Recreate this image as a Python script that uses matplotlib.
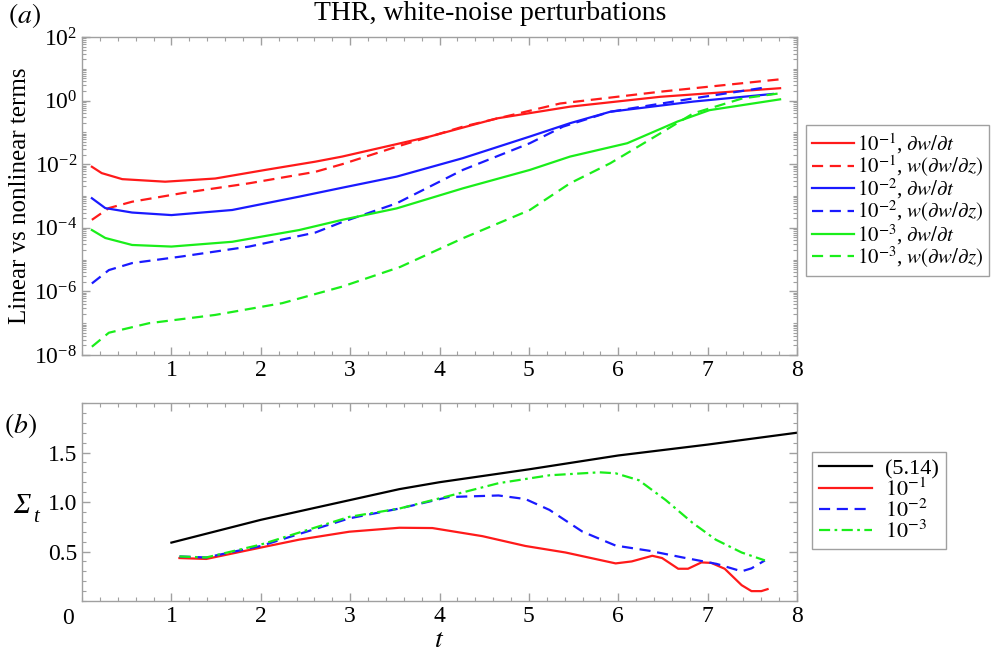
import numpy as np
import matplotlib
matplotlib.use('Agg')
import matplotlib.pyplot as plt
from matplotlib.ticker import FixedLocator, LogLocator, NullFormatter, MultipleLocator

plt.rcParams['font.family'] = ['Liberation Serif', 'DejaVu Serif']
plt.rcParams['mathtext.fontset'] = 'stix'

# ---- panel (a): linear vs nonlinear terms (log10 values)
t_rl = [0.11, 0.22, 0.45, 0.93, 1.49, 2.05, 2.61, 2.91, 3.89, 4.64, 5.46, 6.47, 7.81]
red_lin = [-2.08, -2.28, -2.47, -2.55, -2.45, -2.18, -1.92, -1.76, -1.13, -0.56, -0.19, 0.12, 0.39]

t_rn = [0.11, 0.3, 0.56, 1.12, 1.87, 2.61, 2.91, 3.52, 4.26, 5.35, 6.47, 7.81]
red_nl = [-3.75, -3.38, -3.18, -2.91, -2.6, -2.24, -2.0, -1.45, -0.82, -0.09, 0.28, 0.67]

t_bl = [0.11, 0.26, 0.56, 1.0, 1.68, 2.43, 2.91, 3.52, 4.26, 5.01, 5.46, 5.91, 6.84, 7.73]
blue_lin = [-3.07, -3.38, -3.52, -3.6, -3.44, -3.02, -2.74, -2.39, -1.81, -1.13, -0.71, -0.35, -0.03, 0.21]

t_bn = [0.11, 0.3, 0.56, 1.12, 1.87, 2.61, 2.91, 3.52, 4.26, 5.01, 5.38, 5.91, 6.84, 7.66]
blue_nl = [-5.75, -5.33, -5.11, -4.9, -4.59, -4.15, -3.82, -3.23, -2.18, -1.34, -0.82, -0.35, 0.07, 0.42]

t_gl = [0.11, 0.26, 0.56, 1.0, 1.68, 2.43, 2.91, 3.52, 4.26, 5.01, 5.46, 6.1, 6.66, 7.02, 7.81]
green_lin = [-4.07, -4.32, -4.54, -4.59, -4.44, -4.07, -3.75, -3.39, -2.76, -2.18, -1.76, -1.34, -0.66, -0.30, 0.04]

t_gn = [0.11, 0.3, 0.75, 1.49, 2.24, 2.91, 3.56, 4.26, 5.01, 5.46, 5.91, 6.47, 6.84, 7.39, 7.81]
green_nl = [-7.74, -7.3, -7.0, -6.74, -6.37, -5.85, -5.23, -4.33, -3.44, -2.6, -1.97, -1.03, -0.40, 0.07, 0.23]

# ---- panel (b): Sigma_t
t_k = [1.0, 2.0, 3.0, 3.55, 4.0, 5.0, 6.0, 7.0, 8.0]
sig_514 = [0.59, 0.82, 1.02, 1.13, 1.2, 1.33, 1.47, 1.58, 1.70]

t_r = [1.09, 1.39, 2.0, 2.43, 2.99, 3.55, 3.92, 4.48, 4.96, 5.41, 5.97, 6.15, 6.38, 6.49,
       6.67, 6.78, 6.93, 7.04, 7.19, 7.38, 7.49, 7.6, 7.67]
sig_r = [0.434, 0.425, 0.54, 0.62, 0.70, 0.74, 0.737, 0.655, 0.556, 0.49, 0.38, 0.40, 0.457, 0.434,
         0.326, 0.326, 0.39, 0.385, 0.326, 0.16, 0.10, 0.10, 0.12]

t_b = [1.09, 1.39, 2.0, 2.99, 3.55, 4.1, 4.66, 4.96, 5.23, 5.6, 5.97, 6.35, 6.72, 7.1, 7.38, 7.49, 7.64]
sig_b = [0.45, 0.44, 0.556, 0.835, 0.934, 1.05, 1.066, 1.03, 0.92, 0.70, 0.56, 0.507, 0.44, 0.375, 0.30, 0.33, 0.41]

t_g = [1.09, 1.39, 2.0, 2.99, 3.55, 4.1, 4.66, 5.23, 5.79, 5.97, 6.23, 6.53, 6.83, 7.09, 7.38, 7.64]
sig_g = [0.45, 0.44, 0.57, 0.85, 0.934, 1.06, 1.19, 1.27, 1.30, 1.29, 1.22, 1.02, 0.79, 0.62, 0.49, 0.41]

RED, BLUE, GREEN = '#ff1a1a', '#1a1aff', '#1aee1a'
SPINE = '#a0a0a0'
dash = (5, 3)
dashdot = (5, 2, 1.2, 2)

fig = plt.figure(figsize=(9.92, 6.54), dpi=100)
ax1 = fig.add_axes([0.0827, 0.4572, 0.7208, 0.4862])
ax2 = fig.add_axes([0.0827, 0.081, 0.7208, 0.3028])

lw = 1.6
p = lambda x: 10.0 ** np.array(x)
ax1.plot(t_rl, p(red_lin), color=RED, lw=lw, label=r'$10^{-1}$, $\partial w/\partial t$')
ax1.plot(t_rn, p(red_nl), color=RED, lw=lw, dashes=dash, label=r'$10^{-1}$, $w(\partial w/\partial z)$')
ax1.plot(t_bl, p(blue_lin), color=BLUE, lw=lw, label=r'$10^{-2}$, $\partial w/\partial t$')
ax1.plot(t_bn, p(blue_nl), color=BLUE, lw=lw, dashes=dash, label=r'$10^{-2}$, $w(\partial w/\partial z)$')
ax1.plot(t_gl, p(green_lin), color=GREEN, lw=lw, label=r'$10^{-3}$, $\partial w/\partial t$')
ax1.plot(t_gn, p(green_nl), color=GREEN, lw=lw, dashes=dash, label=r'$10^{-3}$, $w(\partial w/\partial z)$')

ax1.set_yscale('log')
ax1.set_xlim(0, 8)
ax1.set_ylim(1e-8, 1e2)
ax1.yaxis.set_major_locator(FixedLocator([1e-8, 1e-6, 1e-4, 1e-2, 1e0, 1e2]))
ax1.yaxis.set_minor_locator(LogLocator(base=10, subs=np.arange(1, 10), numticks=30))
ax1.yaxis.set_minor_formatter(NullFormatter())
ax1.set_xticks([1, 2, 3, 4, 5, 6, 7, 8])
ax1.xaxis.set_minor_locator(MultipleLocator(0.2))
ax1.set_ylabel('Linear vs nonlinear terms', fontsize=18, labelpad=2)

ax2.plot(t_k, sig_514, color='black', lw=lw, label='(5.14)')
ax2.plot(t_r, sig_r, color=RED, lw=lw, label=r'$10^{-1}$')
ax2.plot(t_b, sig_b, color=BLUE, lw=lw, dashes=dash, label=r'$10^{-2}$')
ax2.plot(t_g, sig_g, color=GREEN, lw=lw, dashes=dashdot, label=r'$10^{-3}$')
ax2.set_xlim(0, 8)
ax2.set_ylim(0, 2)
ax2.set_xticks([1, 2, 3, 4, 5, 6, 7, 8])
ax2.xaxis.set_minor_locator(MultipleLocator(0.2))
ax2.set_yticks([0.5, 1.0, 1.5])
ax2.set_yticklabels(['0.5', '1.0', '1.5'])
ax2.yaxis.set_minor_locator(MultipleLocator(0.1))
ax2.set_xlabel(r'$t$', fontsize=20, labelpad=1)

for ax in (ax1, ax2):
    for s in ax.spines.values():
        s.set_color(SPINE)
        s.set_linewidth(1.0)
    ax.tick_params(which='both', direction='in', top=True, right=True,
                   color=SPINE, labelsize=17, labelcolor='black')
    ax.tick_params(which='major', length=6, width=1.0)
    ax.tick_params(which='minor', length=3, width=0.8)

# bottom panel y label: italic capital sigma with subscript t
fig.text(13 / 992, 1 - 506 / 654, 'Σ', fontsize=21, style='italic', ha='left', va='center')
fig.text(33 / 992, 1 - 518 / 654, 't', fontsize=15, style='italic', ha='left', va='center')
fig.text(68 / 992, 1 - 618 / 654, '0', fontsize=17, ha='center', va='center')

leg1 = ax1.legend(loc='upper left', bbox_to_anchor=(806 / 992, 1 - 125 / 654),
                  bbox_transform=fig.transFigure, fontsize=15, handlelength=2.0,
                  handletextpad=0.15, labelspacing=-0.1, borderpad=0.3,
                  borderaxespad=0, fancybox=False, framealpha=1)
leg1.get_frame().set_edgecolor(SPINE)
leg2 = ax2.legend(loc='upper left', bbox_to_anchor=(812 / 992, 1 - 452 / 654),
                  bbox_transform=fig.transFigure, fontsize=16, handlelength=2.4,
                  handletextpad=0.6, labelspacing=-0.05, borderpad=0.3,
                  borderaxespad=0, fancybox=False, framealpha=1)
leg2.get_frame().set_edgecolor(SPINE)

fig.text(490 / 992, 1 - 14 / 654, 'THR, white-noise perturbations', fontsize=20,
         ha='center', va='center')
fig.text(8 / 992, 1 - 16 / 654, r'$(\mathit{a})$', fontsize=20, va='center')
fig.text(4 / 992, 1 - 425 / 654, r'$(\mathit{b})$', fontsize=20, va='center')

fig.savefig('out.png', dpi=100)
